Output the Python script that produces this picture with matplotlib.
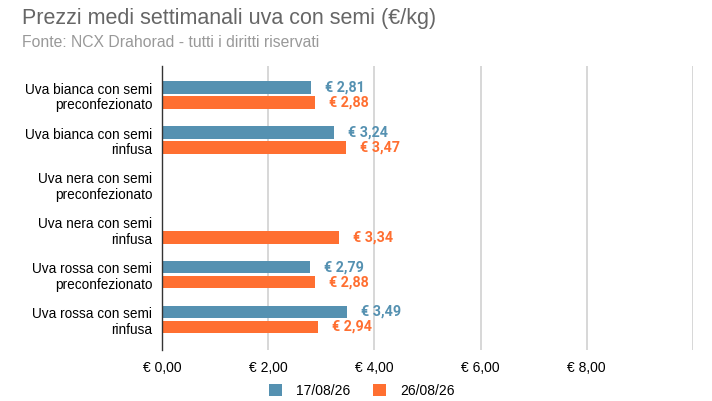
import matplotlib.pyplot as plt
import numpy as np

categories = [
    'Uva bianca con semi\npreconfezionato',
    'Uva bianca con semi\nrinfusa',
    'Uva nera con semi\npreconfezionato',
    'Uva nera con semi\nrinfusa',
    'Uva rossa con semi\npreconfezionato',
    'Uva rossa con semi\nrinfusa',
]
series_names = ['17/08/26', '26/08/26']
prezzi_1708 = [2.81, 3.24, np.nan, np.nan, 2.79, 3.49]
prezzi_2608 = [2.88, 3.47, np.nan, 3.34, 2.88, 2.94]
x_ticks = [0, 2, 4, 6, 8, 10]

blu = '#5591b1'
arancio = '#ff6f31'

plt.rcParams['font.family'] = ['Liberation Sans', 'DejaVu Sans']

fig = plt.figure(figsize=(7.12, 4.01), dpi=100)
ax = fig.add_axes([0.2275, 0.1272, 0.7458, 0.7082])

y = np.arange(len(categories))
h = 0.28
off = 0.167
ax.barh(y - off, prezzi_1708, height=h, color=blu, label=series_names[0], zorder=3)
ax.barh(y + off, prezzi_2608, height=h, color=arancio, label=series_names[1], zorder=3)

def euro(v):
    return '€ ' + f'{v:.2f}'.replace('.', ',')

for i in range(len(categories)):
    for vals, col, dy in [(prezzi_1708, blu, -off), (prezzi_2608, arancio, off)]:
        v = vals[i]
        if np.isnan(v):
            continue
        ax.text(v + 0.26, i + dy, euro(v), color=col, fontsize=10.3, fontweight='bold',
                va='center', ha='left', family=['Roboto', 'DejaVu Sans'])

ax.set_xlim(0, 10)
ax.set_ylim(5.68, -0.65)
ax.set_yticks(y)
ax.set_yticklabels(categories, fontsize=9.8, ha='right', linespacing=1.15)
ax.set_xticks(x_ticks[:-1])
ax.set_xticklabels([euro(t) for t in x_ticks[:-1]], fontsize=10)
ax.tick_params(axis='both', length=0)
ax.tick_params(axis='y', pad=7)
ax.tick_params(axis='x', pad=8)
for xv in x_ticks[1:]:
    ax.axvline(xv, color='#d4d4d4', linewidth=1.3, zorder=1)
for s in ['top', 'right', 'bottom']:
    ax.spines[s].set_visible(False)
ax.spines['left'].set_color('#333333')
ax.spines['left'].set_linewidth(1.0)
ax.spines['left'].set_zorder(4)

fig.text(0.031, 0.955, 'Prezzi medi settimanali uva con semi (€/kg)', fontsize=15.5,
         color='#666666', va='center')
fig.text(0.031, 0.893, 'Fonte: NCX Drahorad - tutti i diritti riservati', fontsize=11.3,
         color='#999999', va='center')

fig.legend(loc='center', bbox_to_anchor=(0.508, 0.025), ncol=2, frameon=False,
           fontsize=10, handlelength=0.9, handleheight=0.9, columnspacing=1.7,
           handletextpad=1.0)

fig.savefig('out.png', dpi=100)
